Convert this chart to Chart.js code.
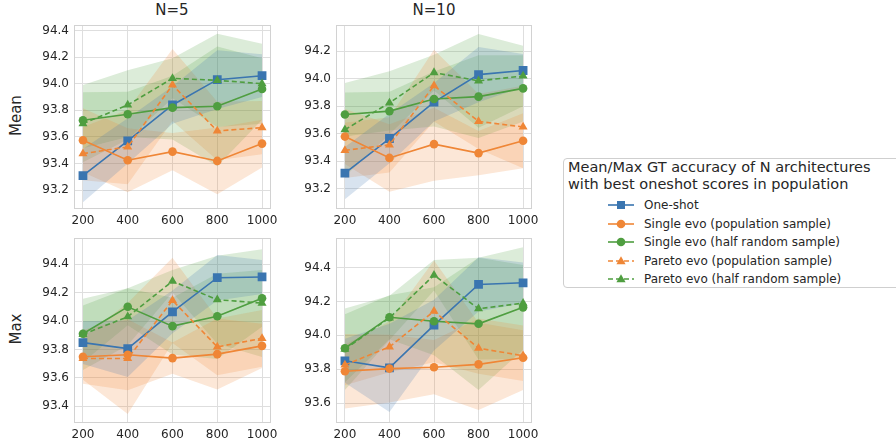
<!DOCTYPE html>
<html>
<head>
<meta charset="utf-8">
<script src="https://cdn.jsdelivr.net/npm/chart.js@4.4.1/dist/chart.umd.min.js"></script>
<style>
  body { margin: 0; background: #fff; font-family: "DejaVu Sans", sans-serif; color: #262626; }
  #wrap { position: relative; width: 896px; height: 440px; overflow: hidden; }
  canvas { position: absolute; }
  .ttl { position: absolute; font-size: 15px; white-space: nowrap; }
  .ylab { position: absolute; font-size: 15px; transform: rotate(-90deg); transform-origin: center; white-space: nowrap; }
  #legend { position: absolute; left: 563px; top: 158px; width: 345px; height: 130px; border: 1px solid #cfcfcf; border-radius: 4px; box-sizing: border-box; }
  #legendTitle { position: absolute; left: 4px; top: 0px; font-size: 14.5px; line-height: 17px; white-space: nowrap; }
  .row { position: absolute; left: 44px; height: 18px; font-size: 12px; line-height: 18px; white-space: nowrap; }
  .row svg { position: absolute; left: 0; top: 3px; }
  .row span { position: absolute; left: 36px; }
</style>
</head>
<body>
<div id="wrap">
  <div class="ttl" style="left:172px; top:1px; transform:translateX(-50%)">N=5</div>
  <div class="ttl" style="left:434px; top:1px; transform:translateX(-50%)">N=10</div>
  <div class="ylab" style="left:-4px; top:107px; width:40px; text-align:center">Mean</div>
  <div class="ylab" style="left:-4px; top:320px; width:40px; text-align:center">Max</div>
  <canvas id="c1" width="277" height="221" style="left:19px; top:13px"></canvas>
  <canvas id="c2" width="276" height="221" style="left:281px; top:13px"></canvas>
  <canvas id="c3" width="277" height="222" style="left:19px; top:226px"></canvas>
  <canvas id="c4" width="276" height="222" style="left:281px; top:226px"></canvas>
  <div id="legend">
    <div id="legendTitle">Mean/Max GT accuracy of N architectures<br>with best oneshot scores in population</div>
  </div>
</div>
<script>
const steps = [200, 400, 600, 800, 1000];
const seriesNames = [
  "One-shot",
  "Single evo (population sample)",
  "Single evo (half random sample)",
  "Pareto evo (population sample)",
  "Pareto evo (half random sample)"
];

// rows follow seriesNames
const meanN5 = [
  [93.31, 93.57, 93.84, 94.03, 94.06],
  [93.575, 93.425, 93.49, 93.42, 93.55],
  [93.725, 93.77, 93.82, 93.83, 93.96],
  [93.475, 93.525, 93.99, 93.645, 93.67],
  [93.70, 93.84, 94.04, 94.025, 94.00]
];
const meanN5Spread = [
  [0.20, 0.17, 0.14, 0.22, 0.16],
  [0.24, 0.24, 0.14, 0.25, 0.18],
  [0.21, 0.17, 0.24, 0.45, 0.23],
  [0.20, 0.28, 0.27, 0.22, 0.20],
  [0.29, 0.26, 0.15, 0.35, 0.30]
];

const meanN10 = [
  [93.315, 93.566, 93.83, 94.03, 94.06],
  [93.58, 93.425, 93.525, 93.46, 93.55],
  [93.74, 93.765, 93.853, 93.87, 93.93],
  [93.48, 93.52, 93.95, 93.69, 93.65],
  [93.63, 93.825, 94.045, 93.985, 94.02]
];
const meanN10Spread = [
  [0.19, 0.18, 0.14, 0.20, 0.12],
  [0.20, 0.245, 0.265, 0.16, 0.20],
  [0.16, 0.14, 0.20, 0.30, 0.24],
  [0.20, 0.20, 0.26, 0.20, 0.30],
  [0.34, 0.23, 0.13, 0.34, 0.22]
];

const maxN5 = [
  [93.848, 93.806, 94.064, 94.305, 94.31],
  [93.748, 93.762, 93.739, 93.767, 93.825],
  [93.91, 94.10, 93.964, 94.033, 94.16],
  [93.736, 93.736, 94.145, 93.818, 93.878],
  [93.906, 94.03, 94.28, 94.15, 94.126]
];
const maxN5Spread = [
  [0.15, 0.20, 0.15, 0.16, 0.12],
  [0.19, 0.25, 0.11, 0.25, 0.155],
  [0.20, 0.13, 0.20, 0.30, 0.20],
  [0.15, 0.39, 0.30, 0.20, 0.20],
  [0.25, 0.20, 0.08, 0.31, 0.38]
];

const maxN10 = [
  [93.85, 93.808, 94.06, 94.30, 94.31],
  [93.788, 93.804, 93.812, 93.829, 93.868],
  [93.924, 94.107, 94.083, 94.068, 94.165],
  [93.825, 93.932, 94.142, 93.924, 93.88],
  [93.918, 94.103, 94.355, 94.157, 94.19]
];
const maxN10Spread = [
  [0.13, 0.26, 0.15, 0.16, 0.12],
  [0.22, 0.20, 0.16, 0.27, 0.19],
  [0.20, 0.13, 0.20, 0.39, 0.25],
  [0.12, 0.15, 0.30, 0.15, 0.15],
  [0.24, 0.13, 0.09, 0.30, 0.33]
];

const colors = ["#3a75b0", "#ef8636", "#4f9e40", "#ef8636", "#4f9e40"];
const markers = ["rect", "circle", "circle", "triangle", "triangle"];
const markerSize = [6.2, 4.3, 4.3, 5.2, 5.2];
const dashed = [false, false, false, true, true];

const alpha = (hex, a) => {
  const n = parseInt(hex.slice(1), 16);
  return `rgba(${n >> 16},${(n >> 8) & 255},${n & 255},${a})`;
};

const frame = {
  id: "frame",
  beforeDatasetsDraw(chart) {
    const a = chart.chartArea, ctx = chart.ctx;
    ctx.save();
    ctx.strokeStyle = "#d2d2d2";
    ctx.lineWidth = 1;
    ctx.strokeRect(Math.round(a.left) + 0.5, Math.round(a.top) + 0.5, Math.round(a.right - a.left) - 1, Math.round(a.bottom - a.top) - 1);
    ctx.restore();
  }
};

const renderPanel = (canvasId, values, spread, yMin, yMax) => {
  const datasets = [];
  values.forEach((row, i) => {
    datasets.push({
      data: row.map((v, k) => ({ x: steps[k], y: v + spread[i][k] })),
      borderWidth: 0, pointRadius: 0, fill: "+1",
      backgroundColor: alpha(colors[i], 0.2), order: 20 + i
    });
    datasets.push({
      data: row.map((v, k) => ({ x: steps[k], y: v - spread[i][k] })),
      borderWidth: 0, pointRadius: 0, fill: false, order: 20 + i
    });
  });
  values.forEach((row, i) => {
    datasets.push({
      label: seriesNames[i],
      data: row.map((v, k) => ({ x: steps[k], y: v })),
      borderColor: colors[i],
      backgroundColor: colors[i],
      borderWidth: 1.6,
      borderDash: dashed[i] ? [5, 3] : [],
      pointStyle: markers[i],
      pointRadius: markerSize[i],
      pointBorderWidth: 0,
      fill: false,
      tension: 0,
      order: 10 - i
    });
  });

  new Chart(document.getElementById(canvasId).getContext("2d"), {
    type: "line",
    data: { datasets },
    plugins: [frame],
    options: {
      responsive: false,
      animation: false,
      layout: { padding: { top: 10, right: 25, left: 0, bottom: 0 } },
      plugins: { legend: { display: false }, tooltip: { enabled: false } },
      scales: {
        x: {
          type: "linear", min: 160, max: 1040,
          grid: { color: "#dedede", drawTicks: false },
          border: { display: false },
          ticks: { stepSize: 200, includeBounds: false, padding: 5, color: "#262626", maxRotation: 0,
                   font: { family: "DejaVu Sans", size: 12 },
                   callback: v => String(v) },
          afterFit: s => { s.height = 25; }
        },
        y: {
          type: "linear", min: yMin, max: yMax,
          grid: { color: "#dedede", drawTicks: false },
          border: { display: false },
          ticks: { stepSize: 0.2, precision: 1, includeBounds: false, padding: 5, color: "#262626",
                   font: { family: "DejaVu Sans", size: 12 },
                   callback: v => v.toFixed(1) },
          afterFit: s => { s.width = 55; }
        }
      }
    }
  });
};

renderPanel("c1", meanN5, meanN5Spread, 93.059, 94.439);
renderPanel("c2", meanN10, meanN10Spread, 93.054, 94.389);
renderPanel("c3", maxN5, maxN5Spread, 93.282, 94.583);
renderPanel("c4", maxN10, maxN10Spread, 93.483, 94.573);

// legend entries
const legend = document.getElementById("legend");
seriesNames.forEach((name, i) => {
  const row = document.createElement("div");
  row.className = "row";
  row.style.top = (37 + i * 18.5) + "px";
  const c = colors[i];
  let mark;
  if (markers[i] === "rect") mark = `<rect x="9" y="2" width="8" height="8" fill="${c}"/>`;
  else if (markers[i] === "circle") mark = `<circle cx="13" cy="6" r="4.3" fill="${c}"/>`;
  else mark = `<polygon points="13,1.2 17.6,9.2 8.4,9.2" fill="${c}"/>`;
  const line = dashed[i]
    ? `<line x1="0" y1="6" x2="26" y2="6" stroke="${c}" stroke-width="1.6" stroke-dasharray="5,3"/>`
    : `<line x1="0" y1="6" x2="26" y2="6" stroke="${c}" stroke-width="1.6"/>`;
  row.innerHTML = `<svg width="26" height="12">${line}${mark}</svg><span>${name}</span>`;
  legend.appendChild(row);
});
</script>
</body>
</html>
